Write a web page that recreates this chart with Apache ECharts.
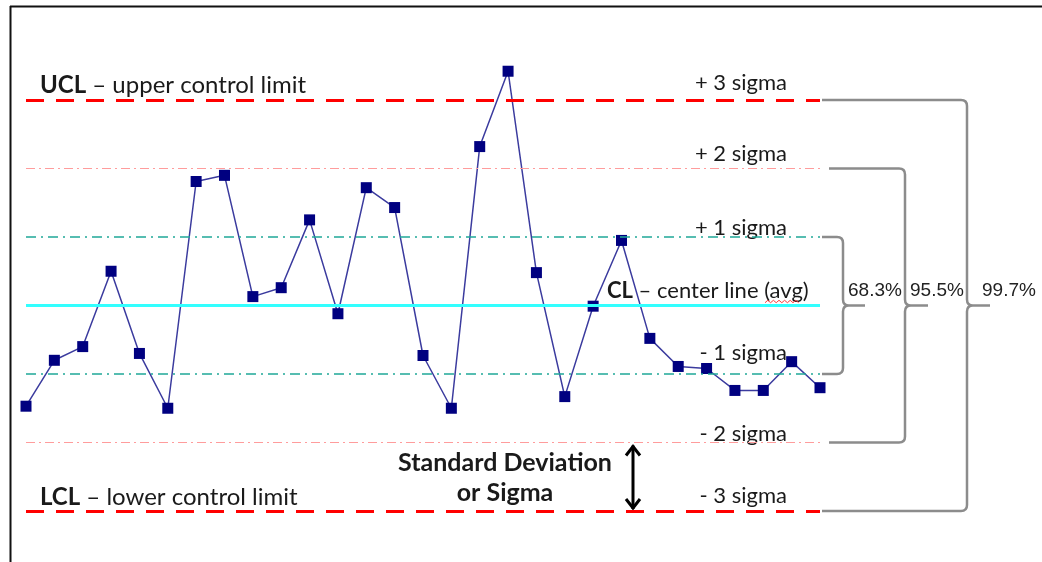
<!DOCTYPE html>
<html>
<head>
<meta charset="utf-8">
<script src="https://cdn.jsdelivr.net/npm/echarts@6/dist/echarts.min.js"></script>
<style>
html, body { margin: 0; padding: 0; background: #fff; }
#chart { width: 1042px; height: 562px; }
</style>
</head>
<body>
<div id="chart"></div>
<script>
// samples, measured in sigma units around the center line
var samples = ['1','2','3','4','5','6','7','8','9','10','11','12','13','14','15',
  '16','17','18','19','20','21','22','23','24','25','26','27','28','29'];
var values = [-1.47, -0.80, -0.60, 0.50, -0.70, -1.50, 1.81, 1.90, 0.13, 0.26,
  1.25, -0.12, 1.72, 1.43, -0.73, -1.50, 2.32, 3.42, 0.48, -1.33,
  -0.01, 0.95, -0.48, -0.89, -0.92, -1.24, -1.24, -0.82, -1.20];

var sigmaLevels = [3, 2, 1, 0, -1, -2, -3];
var sigmaLabels = ['+ 3 sigma', '+ 2 sigma', '+ 1 sigma', '', '- 1 sigma', '- 2 sigma', '- 3 sigma'];
var coverageSigma = [1, 2, 3];
var coverageLabels = ['68.3%', '95.5%', '99.7%'];

var FONT = 'Lato, "Open Sans", sans-serif';
var TXT = '#1a1a1a';

function lineStyleFor(level) {
  if (level === 0) return { color: '#33ffff', width: 3, type: 'solid' };
  if (Math.abs(level) === 3) return { color: '#ff0000', width: 3, type: [18, 12] };
  if (Math.abs(level) === 2) return { color: '#ff9c9c', width: 1, type: [9, 4, 2, 4] };
  return { color: '#1fa898', width: 1.5, type: [10, 5, 2, 5] };
}

// label placement (px above the line)
var labelLift = { '3': 17, '2': 15, '1': 9, '-1': 21, '-2': 9, '-3': 15 };
// bracket layout, px right of the plot end
var bracketLayout = [
  { start: 2, vert: 23, tip: 45, text: 5 },
  { start: 9, vert: 85, tip: 108, text: 5 },
  { start: 2, vert: 147, tip: 170, text: 15 }
];

function bracePath(x0, xv, xt, y1, ym, y2) {
  var r = 6;
  return 'M' + x0 + ' ' + y1 + ' L' + (xv - r) + ' ' + y1 +
    ' Q' + xv + ' ' + y1 + ' ' + xv + ' ' + (y1 + r) +
    ' L' + xv + ' ' + (ym - r) +
    ' Q' + xv + ' ' + ym + ' ' + (xv + r) + ' ' + ym +
    ' L' + xt + ' ' + ym +
    ' M' + (xv + r) + ' ' + ym +
    ' Q' + xv + ' ' + ym + ' ' + xv + ' ' + (ym + r) +
    ' L' + xv + ' ' + (y2 - r) +
    ' Q' + xv + ' ' + y2 + ' ' + (xv - r) + ' ' + y2 +
    ' L' + x0 + ' ' + y2;
}

function renderNotes(params, api) {
  var cs = params.coordSys;
  var left = cs.x, right = cs.x + cs.width;
  var yOf = function (v) { return api.coord([0, v])[1]; };
  var kids = [];

  sigmaLevels.forEach(function (lv, i) {
    if (!sigmaLabels[i]) return;
    kids.push({
      type: 'text',
      style: {
        x: right - 33, y: yOf(lv) - labelLift[String(lv)],
        text: sigmaLabels[i], align: 'right', verticalAlign: 'middle',
        font: '22px ' + FONT, fill: TXT
      }
    });
  });

  kids.push({
    type: 'text',
    style: {
      x: left + 14, y: yOf(3) - 15, verticalAlign: 'middle',
      text: '{b|UCL} – upper control limit',
      rich: { b: { fontWeight: 'bold', fontSize: 24, fontFamily: FONT, fill: TXT } },
      fontSize: 24, fontFamily: FONT, fill: TXT
    }
  });
  kids.push({
    type: 'text',
    style: {
      x: left + 14, y: yOf(-3) - 14, verticalAlign: 'middle',
      text: '{b|LCL} – lower control limit',
      rich: { b: { fontWeight: 'bold', fontSize: 24, fontFamily: FONT, fill: TXT } },
      fontSize: 24, fontFamily: FONT, fill: TXT
    }
  });
  kids.push({
    type: 'text',
    style: {
      x: 607, y: yOf(0) - 15, verticalAlign: 'middle',
      text: '{b|CL} – center line (avg)',
      rich: { b: { fontWeight: 'bold', fontSize: 22, fontFamily: FONT, fill: TXT } },
      fontSize: 22, fontFamily: FONT, fill: TXT
    }
  });
  // spell-check squiggle under "avg"
  var sq = [], sy = yOf(0) - 4;
  for (var k = 0; k <= 12; k++) sq.push([765 + k * 2.8, sy + (k % 2 ? -1.2 : 1.2)]);
  kids.push({ type: 'polyline', shape: { points: sq }, style: { stroke: '#ff3b3b', lineWidth: 1, fill: null } });

  // standard deviation arrow between -2 and -3 sigma
  var ax = 633, ya = yOf(-2) + 3, yb = yOf(-3) - 2;
  kids.push({
    type: 'polyline', shape: { points: [[ax, ya], [ax, yb]] },
    style: { stroke: '#000', lineWidth: 3, fill: null }
  });
  kids.push({
    type: 'polyline', shape: { points: [[ax - 7, ya + 10], [ax, ya + 1], [ax + 7, ya + 10]] },
    style: { stroke: '#000', lineWidth: 3, fill: null }
  });
  kids.push({
    type: 'polyline', shape: { points: [[ax - 7, yb - 10], [ax, yb - 1], [ax + 7, yb - 10]] },
    style: { stroke: '#000', lineWidth: 3, fill: null }
  });
  kids.push({
    type: 'text',
    style: {
      x: ax - 128, y: (ya + yb) / 2 + 1, align: 'center', verticalAlign: 'middle',
      text: 'Standard Deviation\nor Sigma', lineHeight: 30,
      font: 'bold 25px ' + FONT, fill: TXT
    }
  });

  // coverage braces
  coverageSigma.forEach(function (s, i) {
    var b = bracketLayout[i];
    var ym = yOf(0);
    kids.push({
      type: 'path',
      shape: { pathData: bracePath(right + b.start, right + b.vert, right + b.tip, yOf(s), ym, yOf(-s)) },
      style: { stroke: '#8c8c8c', lineWidth: 2.5, fill: null }
    });
    kids.push({
      type: 'text',
      style: {
        x: right + b.vert + b.text, y: ym - 15, verticalAlign: 'middle',
        text: coverageLabels[i],
        font: '19px "Liberation Sans Narrow", "Liberation Sans", sans-serif', fill: '#222'
      }
    });
  });

  return { type: 'group', children: kids };
}

var option = {
  animation: false,
  backgroundColor: '#fff',
  grid: { left: 26, right: 222, top: 31.5, bottom: 16.75 },
  xAxis: {
    type: 'category', data: samples, boundaryGap: false,
    axisLine: { show: false }, axisTick: { show: false }, axisLabel: { show: false },
    splitLine: { show: false }
  },
  yAxis: {
    type: 'value', min: -3.5, max: 4,
    axisLine: { show: false }, axisTick: { show: false }, axisLabel: { show: false },
    splitLine: { show: false }
  },
  graphic: [
    { type: 'line', shape: { x1: 10, y1: 6.5, x2: 1042, y2: 6.5 }, style: { stroke: '#111', lineWidth: 2 } },
    { type: 'line', shape: { x1: 10.5, y1: 6, x2: 10.5, y2: 562 }, style: { stroke: '#111', lineWidth: 2 } }
  ],
  series: [
    {
      name: 'limits', type: 'line', data: [], z: 1, silent: true,
      markLine: {
        symbol: 'none', silent: true, label: { show: false },
        data: sigmaLevels.map(function (lv) {
          return { yAxis: lv, lineStyle: lineStyleFor(lv) };
        })
      }
    },
    {
      name: 'notes', type: 'custom', z: 2, clip: false, silent: true,
      data: [[0, 0]],
      renderItem: renderNotes
    },
    {
      name: 'sample', type: 'line', data: values, z: 3,
      symbol: 'rect', symbolSize: [11, 11], showAllSymbol: true,
      itemStyle: { color: '#000080' },
      lineStyle: { color: '#3b3b9e', width: 1.5 }
    }
  ]
};

var chart = echarts.init(document.getElementById('chart'));
chart.setOption(option, true);
</script>
</body>
</html>
